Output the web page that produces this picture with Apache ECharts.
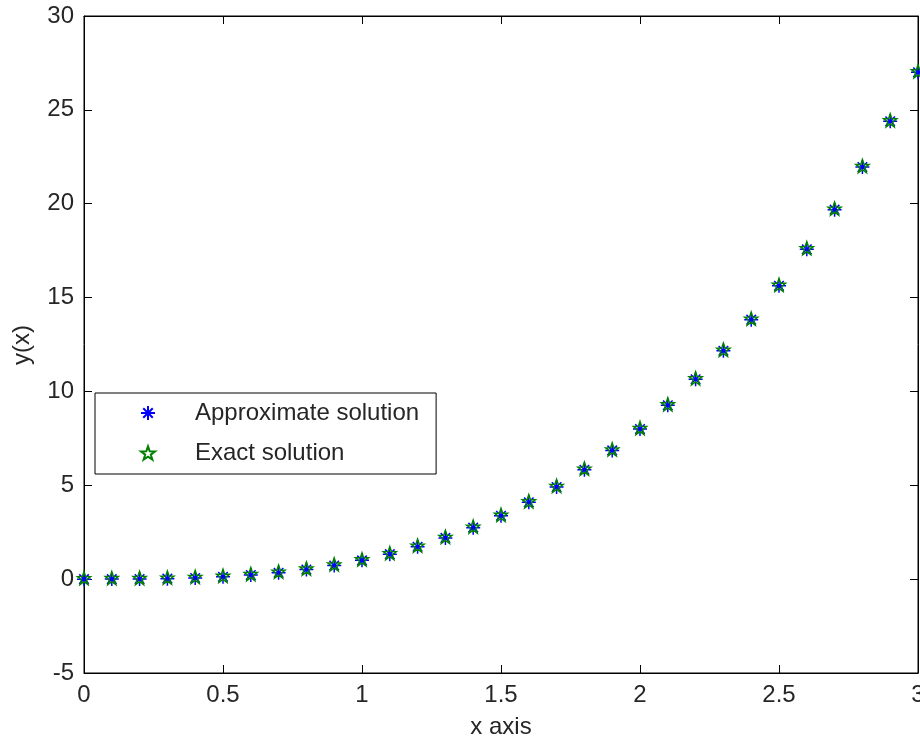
<!DOCTYPE html>
<html>
<head>
<meta charset="utf-8">
<script src="https://cdn.jsdelivr.net/npm/echarts@6/dist/echarts.min.js"></script>
<style>
html,body{margin:0;padding:0;background:#fff;}
#chart{width:920px;height:742px;}
</style>
</head>
<body>
<div id="chart"></div>
<script>
const xValues = [0, 0.1, 0.2, 0.3, 0.4, 0.5, 0.6, 0.7, 0.8, 0.9, 1.0, 1.1, 1.2, 1.3, 1.4, 1.5, 1.6, 1.7, 1.8, 1.9, 2.0, 2.1, 2.2, 2.3, 2.4, 2.5, 2.6, 2.7, 2.8, 2.9, 3.0];
const approxValues = [0, 0.001, 0.008, 0.027, 0.064, 0.125, 0.216, 0.343, 0.512, 0.729, 1.0, 1.331, 1.728, 2.197, 2.744, 3.375, 4.096, 4.913, 5.832, 6.859, 8.0, 9.261, 10.648, 12.167, 13.824, 15.625, 17.576, 19.683, 21.952, 24.389, 27.0];
const exactValues = [0, 0.001, 0.008, 0.027, 0.064, 0.125, 0.216, 0.343, 0.512, 0.729, 1.0, 1.331, 1.728, 2.197, 2.744, 3.375, 4.096, 4.913, 5.832, 6.859, 8.0, 9.261, 10.648, 12.167, 13.824, 15.625, 17.576, 19.683, 21.952, 24.389, 27.0];
const seriesNames = ['Approximate solution', 'Exact solution'];
const xLabelText = 'x axis';
const yLabelText = 'y(x)';

const asteriskPath = 'path://M0,5L10,5M5,0L5,10M1.6,1.6L8.4,8.4M8.4,1.6L1.6,8.4';
const starPath = 'path://M5,0L6.18,3.38L9.76,3.45L6.9,5.62L7.94,9.05L5,7L2.06,9.05L3.1,5.62L0.24,3.45L3.82,3.38Z';

const font = 'Liberation Sans, Arial, sans-serif';
const textColor = '#262626';

const chart = echarts.init(document.getElementById('chart'), null, {renderer: 'canvas'});

function pairs(ys) { return xValues.map((x, i) => [x, ys[i]]); }

const axisCommon = {
  type: 'value',
  splitLine: {show: false},
  axisLine: {show: true, onZero: false, lineStyle: {color: '#000', width: 1}},
  axisTick: {show: true, inside: true, length: 8, lineStyle: {color: '#000', width: 1}}
};

chart.setOption({
  animation: false,
  backgroundColor: '#fff',
  grid: {left: 84, right: 2, top: 16, bottom: 69, show: true, borderColor: '#000', borderWidth: 1, containLabel: false, outerBoundsMode: 'none'},
  xAxis: [
    Object.assign({}, axisCommon, {
      min: 0, max: 3, interval: 0.5, position: 'bottom',
      axisLabel: {color: textColor, fontFamily: font, fontSize: 24, margin: 10, showMaxLabel: true, showMinLabel: true, hideOverlap: false}
    }),
    Object.assign({}, axisCommon, {
      min: 0, max: 3, interval: 0.5, position: 'top',
      axisLabel: {show: false}
    })
  ],
  yAxis: [
    Object.assign({}, axisCommon, {
      min: -5, max: 30, interval: 5, position: 'left',
      axisLabel: {color: textColor, fontFamily: font, fontSize: 24, margin: 10}
    }),
    Object.assign({}, axisCommon, {
      min: -5, max: 30, interval: 5, position: 'right',
      axisLabel: {show: false}
    })
  ],
  legend: {
    orient: 'vertical',
    left: 95, top: 393,
    padding: [6, 17, 7, 45],
    itemWidth: 14, itemHeight: 14, itemGap: 12,
    backgroundColor: '#fff',
    borderColor: '#000', borderWidth: 1, borderRadius: 0,
    textStyle: {color: textColor, fontFamily: font, fontSize: 24, lineHeight: 28, padding: [0, 0, 0, 35]},
    data: seriesNames
  },
  series: [
    {
      name: seriesNames[0], type: 'scatter',
      data: pairs(approxValues),
      symbol: asteriskPath, symbolSize: 14,
      itemStyle: {color: 'rgba(0,0,0,0)', borderColor: '#0000ff', borderWidth: 1.5, opacity: 1},
      z: 2
    },
    {
      name: seriesNames[1], type: 'scatter',
      data: pairs(exactValues),
      symbol: starPath, symbolSize: 13, symbolOffset: [0, -1],
      itemStyle: {color: 'rgba(0,0,0,0)', borderColor: '#008000', borderWidth: 1.5, opacity: 1},
      z: 3
    }
  ],
  graphic: [
    {type: 'text', x: 501, y: 727, style: {text: xLabelText, fill: textColor, font: '24px ' + font, textAlign: 'center', textVerticalAlign: 'middle'}},
    {type: 'text', x: 22, y: 345, rotation: Math.PI / 2, style: {text: yLabelText, fill: textColor, font: '24px ' + font, textAlign: 'center', textVerticalAlign: 'middle'}}
  ]
});
</script>
</body>
</html>
